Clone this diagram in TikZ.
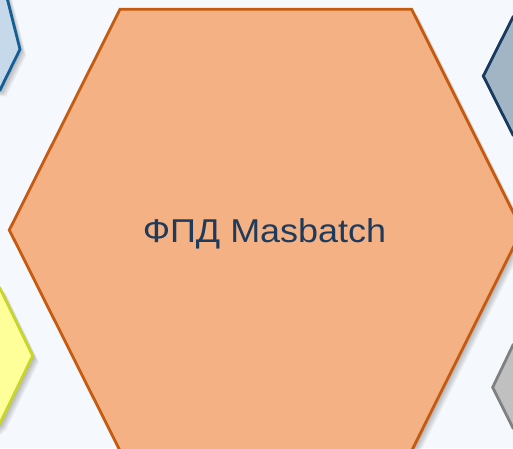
\documentclass[tikz,border=0pt]{standalone}
\usepackage{fontspec}
\setmainfont{Liberation Sans}
\definecolor{bgc}{HTML}{F5F8FC}
\definecolor{orfill}{HTML}{F4B183}
\definecolor{ordraw}{HTML}{C55A11}
\definecolor{blfill}{HTML}{C5D9EB}
\definecolor{bldraw}{HTML}{145E96}
\definecolor{bgfill}{HTML}{A2B5C4}
\definecolor{bgdraw}{HTML}{173A5E}
\definecolor{yefill}{HTML}{FFFF99}
\definecolor{yedraw}{HTML}{C8D62A}
\definecolor{grfill}{HTML}{C0C0C0}
\definecolor{grdraw}{HTML}{808080}
\definecolor{txtc}{HTML}{1F3B5C}
\tikzset{
  hexline/.style={line width=2.8pt, line join=miter},
  shadowlayer/.style={fill=black, opacity=0.045},
  labeltext/.style={text=txtc, font=\fontsize{33}{40}\selectfont, inner sep=0pt, xscale=1.09, transform shape}
}
\begin{document}
\begin{tikzpicture}[x=1pt,y=-1pt]
\fill[bgc] (0,0) rectangle (513,448);
\useasboundingbox (0,0) rectangle (513,448);
\def\hexC{(120,9.3) -- (411.7,9.3) -- (522,230) -- (411.7,450.7) -- (120,450.7) -- (9.3,230) -- cycle}
\def\hexTL{(-40,-30) -- (0,-30) -- (20,49.3) -- (0,90) -- (-40,90) -- cycle}
\def\hexYL{(-40,250) -- (0,288.3) -- (32.7,355.7) -- (0,423.3) -- (-40,460) -- cycle}
\def\hexTR{(560,-20) -- (513,17) -- (483.3,76) -- (513,135) -- (560,170) -- cycle}
\def\hexGR{(560,300) -- (513,345) -- (492.7,387.3) -- (513,428) -- (560,470) -- cycle}
% shadows
\foreach \s in {1,...,7}{
  \fill[shadowlayer, shift={(\s*0.9,\s*0.9)}] \hexC;
  \fill[shadowlayer, shift={(\s*0.9,\s*0.9)}] \hexTL;
  \fill[shadowlayer, shift={(\s*0.9,\s*0.9)}] \hexYL;
  \fill[shadowlayer, shift={(\s*0.9,\s*0.9)}] \hexTR;
  \fill[shadowlayer, shift={(\s*0.9,\s*0.9)}] \hexGR;
}
% side hexagons
\filldraw[hexline, fill=blfill, draw=bldraw] \hexTL;
\filldraw[hexline, fill=yefill, draw=yedraw] \hexYL;
\filldraw[hexline, fill=bgfill, draw=bgdraw] \hexTR;
\filldraw[hexline, fill=grfill, draw=grdraw] \hexGR;
% central hexagon
\filldraw[hexline, fill=orfill, draw=ordraw] \hexC;
\node[labeltext, anchor=base] (label) at (264.5,242.5) {ФПД Masbatch};
\end{tikzpicture}
\end{document}
